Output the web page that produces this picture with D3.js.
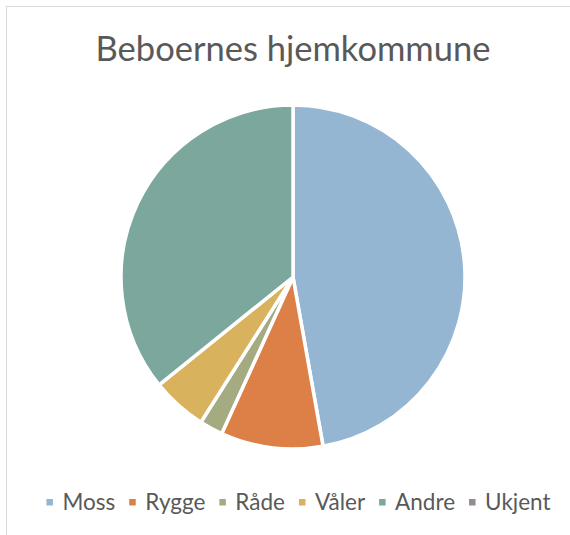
<!DOCTYPE html>
<html>
<head>
<meta charset="utf-8">
<script src="https://cdn.jsdelivr.net/npm/d3@7"></script>
<style>
  html, body { margin: 0; padding: 0; background: #fff; }
  svg { display: block; }
</style>
</head>
<body>
<svg id="chart"></svg>
<script>
// Data (share of residents, %)
const kommuner = ["Moss", "Rygge", "Råde", "Våler", "Andre", "Ukjent"];
const andel = [47.2, 9.6, 2.2, 5.2, 35.8, 0];
const farger = ["#94b6d2", "#dd8047", "#a5ab81", "#d8b25c", "#7ba79d", "#968c8c"];

const width = 570;
const height = 535;
const cx = 293, cy = 277, radius = 172;
const fontFamily = "Lato, 'Open Sans', sans-serif";
const textColor = "#595959";

const svg = d3.select("#chart")
    .attr("width", width)
    .attr("height", height);

// chart area border (runs off the right and bottom edge)
svg.append("rect")
    .attr("x", 6.5)
    .attr("y", 6.5)
    .attr("width", 620)
    .attr("height", 620)
    .attr("fill", "#fff")
    .attr("stroke", "#d9d9d9")
    .attr("stroke-width", 1);

// title
svg.append("text")
    .attr("x", 293)
    .attr("y", 61)
    .attr("text-anchor", "middle")
    .style("font-family", fontFamily)
    .style("font-size", "34.5px")
    .style("fill", textColor)
    .text("Beboernes hjemkommune");

const color = d3.scaleOrdinal().domain(kommuner).range(farger);

const pie = d3.pie()
    .sort(null)
    .value(d => d.value);

const arc = d3.arc()
    .innerRadius(0)
    .outerRadius(radius);

const data = kommuner.map((k, i) => ({ name: k, value: andel[i] }));

svg.append("g")
    .attr("transform", `translate(${cx},${cy})`)
    .selectAll("path")
    .data(pie(data))
    .enter().append("path")
    .attr("d", arc)
    .attr("fill", d => color(d.data.name))
    .attr("stroke", d => d.data.value > 0 ? "#fff" : "none")
    .attr("stroke-width", 3.5)
    .attr("stroke-linejoin", "round");

// legend along the bottom
const legend = svg.append("g");
const items = legend.selectAll("g")
    .data(kommuner)
    .enter().append("g");

items.append("rect")
    .attr("y", 499)
    .attr("width", 6.5)
    .attr("height", 6.5)
    .attr("fill", d => color(d));

items.append("text")
    .attr("x", 16)
    .attr("y", 510)
    .style("font-family", fontFamily)
    .style("font-size", "22.5px")
    .style("fill", textColor)
    .text(d => d);

// lay the items out from their measured widths
const gap = 14;
let widths = [];
items.select("text").each(function () { widths.push(16 + this.getComputedTextLength()); });
const total = d3.sum(widths) + gap * (widths.length - 1);
let x = 298.5 - total / 2;
items.attr("transform", (d, i) => {
    const t = `translate(${x},0)`;
    x += widths[i] + gap;
    return t;
});
</script>
</body>
</html>
